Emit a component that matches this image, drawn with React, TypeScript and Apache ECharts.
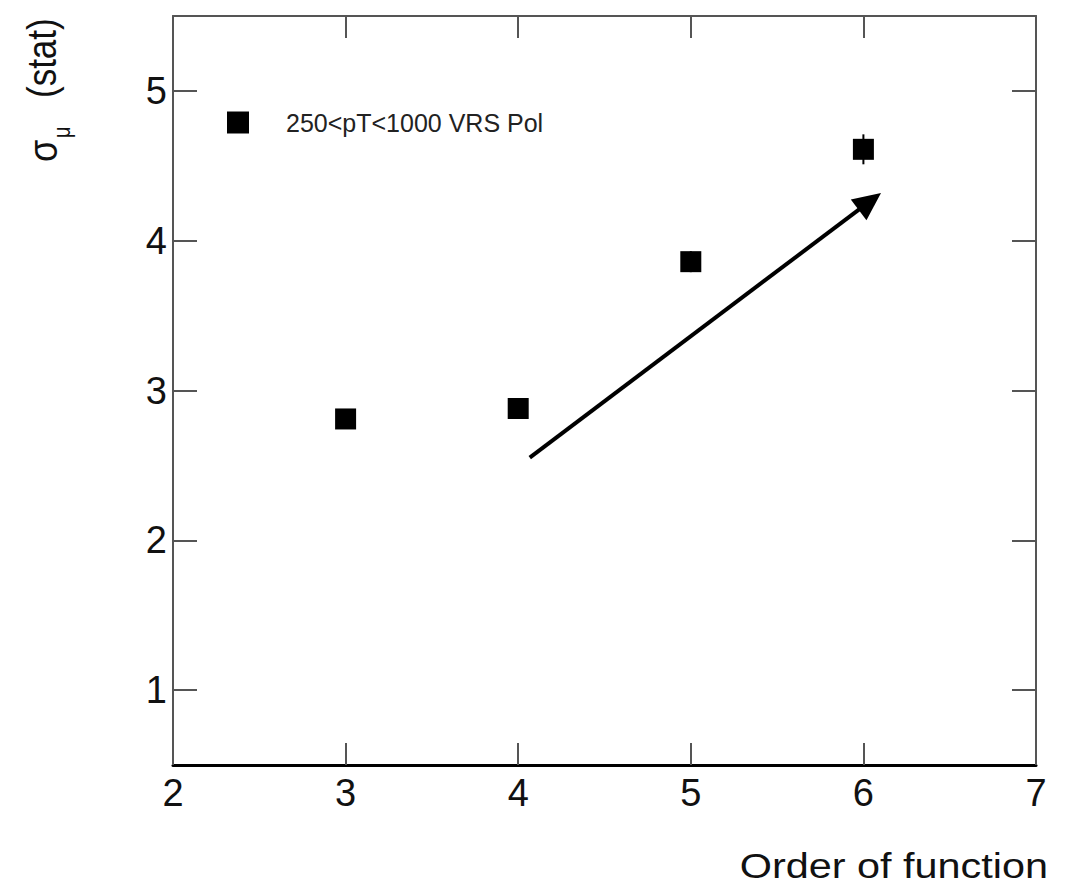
import React, { useEffect, useRef } from "react";
import * as echarts from "echarts";

const xValues = [3, 4, 5, 6];
const yValues = [2.81, 2.88, 3.86, 4.61];
const yErrors = [0.06, 0.06, 0.07, 0.1];
const xTicks = [2, 3, 4, 5, 6, 7];
const yTicks = [1, 2, 3, 4, 5];
const seriesName = "250<pT<1000 VRS Pol";
const xTitle = "Order of function";
const arrowFromTo = [[4.067, 2.552, 6.102, 4.319]];

const FONT = "'Liberation Sans', Arial, Helvetica, sans-serif";

export default function App() {
  const ref = useRef<HTMLDivElement>(null);
  useEffect(() => {
    if (!ref.current) return;
    const chart = echarts.init(ref.current, undefined, { renderer: "svg" });
    const points = xValues.map((x, i) => [x, yValues[i]]);
    const errs = xValues.map((x, i) => [x, yValues[i], yErrors[i]]);
    const frameGray = "#555";
    const option: any = {
      animation: false,
      backgroundColor: "#fff",
      textStyle: { fontFamily: FONT },
      grid: { left: 173, right: 41, top: 16, bottom: 127, containLabel: false },
      legend: {
        left: 222,
        top: 105,
        itemWidth: 22,
        itemHeight: 22,
        icon: "rect",
        data: [seriesName],
        itemStyle: { opacity: 1, color: "#000" },
        textStyle: { fontSize: 25, color: "#222", fontFamily: FONT, padding: [0, 0, 0, 32] },
      },
      xAxis: [
        {
          type: "value",
          position: "bottom",
          min: xTicks[0],
          max: xTicks[xTicks.length - 1],
          interval: 1,
          splitLine: { show: false },
          axisLine: { show: true, lineStyle: { color: "#000", width: 3 } },
          axisTick: { show: true, inside: true, length: 22, lineStyle: { color: frameGray, width: 2 } },
          axisLabel: { fontSize: 38, color: "#111", margin: 9, fontFamily: FONT },
        },
        {
          type: "value",
          position: "top",
          min: xTicks[0],
          max: xTicks[xTicks.length - 1],
          interval: 1,
          splitLine: { show: false },
          axisLine: { show: true, lineStyle: { color: frameGray, width: 2 } },
          axisTick: { show: true, inside: true, length: 22, lineStyle: { color: frameGray, width: 2 } },
          axisLabel: { show: false },
        },
      ],
      yAxis: [
        {
          type: "value",
          position: "left",
          min: 0.5,
          max: 5.5,
          splitLine: { show: false },
          axisLine: { show: true, lineStyle: { color: frameGray, width: 2 } },
          axisTick: { show: true, inside: true, length: 24, customValues: yTicks, lineStyle: { color: frameGray, width: 2 } },
          axisLabel: { fontSize: 38, color: "#111", margin: 6, customValues: yTicks, fontFamily: FONT },
        },
        {
          type: "value",
          position: "right",
          min: 0.5,
          max: 5.5,
          splitLine: { show: false },
          axisLine: { show: true, lineStyle: { color: frameGray, width: 2 } },
          axisTick: { show: true, inside: true, length: 24, customValues: yTicks, lineStyle: { color: frameGray, width: 2 } },
          axisLabel: { show: false, customValues: yTicks },
        },
      ],
      series: [
        {
          name: "errors",
          type: "custom",
          xAxisIndex: 0,
          yAxisIndex: 0,
          data: errs,
          z: 2,
          silent: true,
          renderItem: (params: any, api: any) => {
            const x = api.value(0);
            const y = api.value(1);
            const e = api.value(2);
            const t = api.coord([x, y + e]);
            const b = api.coord([x, y - e]);
            return {
              type: "line",
              shape: { x1: t[0], y1: t[1], x2: b[0], y2: b[1] },
              style: { stroke: "#000", lineWidth: 2 },
            };
          },
        },
        {
          name: seriesName,
          type: "scatter",
          xAxisIndex: 0,
          yAxisIndex: 0,
          symbol: "rect",
          symbolSize: 21,
          itemStyle: { color: "#000", opacity: 1 },
          data: points,
          z: 3,
        },
        {
          name: "arrow",
          type: "custom",
          xAxisIndex: 0,
          yAxisIndex: 0,
          data: arrowFromTo,
          z: 4,
          silent: true,
          clip: false,
          renderItem: (params: any, api: any) => {
            const p1 = api.coord([api.value(0), api.value(1)]);
            const p2 = api.coord([api.value(2), api.value(3)]);
            const dx = p2[0] - p1[0];
            const dy = p2[1] - p1[1];
            const len = Math.sqrt(dx * dx + dy * dy);
            const ux = dx / len;
            const uy = dy / len;
            const nx = -uy;
            const ny = ux;
            const L = 28;
            const W = 13;
            const bx = p2[0] - ux * L;
            const by = p2[1] - uy * L;
            return {
              type: "group",
              children: [
                {
                  type: "line",
                  shape: { x1: p1[0], y1: p1[1], x2: bx + ux * 4, y2: by + uy * 4 },
                  style: { stroke: "#000", lineWidth: 4 },
                },
                {
                  type: "polygon",
                  shape: {
                    points: [
                      [p2[0], p2[1]],
                      [bx + nx * W, by + ny * W],
                      [bx - nx * W, by - ny * W],
                    ],
                  },
                  style: { fill: "#000" },
                },
              ],
            };
          },
        },
      ],
      graphic: [
        {
          type: "text",
          x: 1048,
          y: 865,
          scaleX: 1.15,
          style: {
            text: xTitle,
            fontSize: 36,
            fontFamily: FONT,
            fill: "#111",
            align: "right",
            verticalAlign: "middle",
          },
        },
        {
          type: "group",
          x: 57,
          y: 162,
          rotation: Math.PI / 2,
          scaleY: 1.15,
          children: [
            {
              type: "text",
              x: 0,
              y: -12.5,
              style: { text: "σ", fontSize: 36, fontFamily: FONT, fill: "#111", align: "left", verticalAlign: "middle" },
            },
            {
              type: "text",
              x: 24,
              y: 4,
              style: { text: "μ", fontSize: 20, fontFamily: FONT, fill: "#111", align: "left", verticalAlign: "middle" },
            },
            {
              type: "text",
              x: 64,
              y: -12.5,
              style: { text: "(stat)", fontSize: 35, fontFamily: FONT, fill: "#111", align: "left", verticalAlign: "middle" },
            },
          ],
        },
      ],
    };
    chart.setOption(option);
    return () => chart.dispose();
  }, []);
  return (
    <div
      ref={ref}
      style={{ position: "absolute", left: 0, top: 0, width: 1077, height: 892, background: "#fff" }}
    />
  );
}
